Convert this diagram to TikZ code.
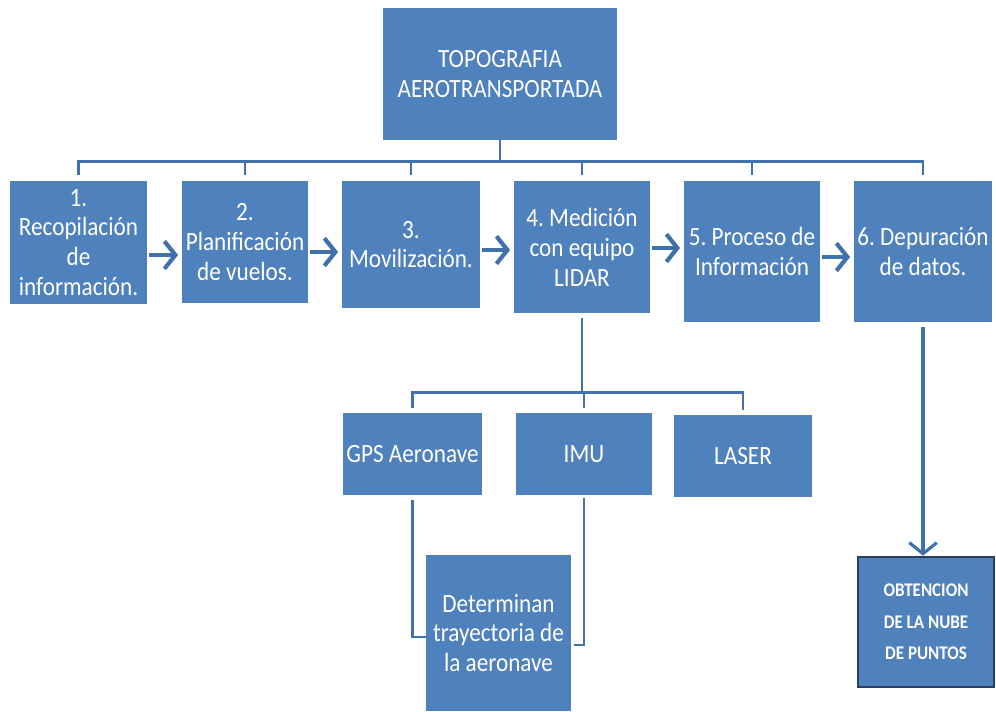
\documentclass[tikz,border=0pt]{standalone}
\usepackage{fontspec}
\setmainfont{Carlito}[FakeStretch=0.88]
\usetikzlibrary{arrows.meta}
\definecolor{boxblue}{RGB}{79,129,189}
\definecolor{lineblue}{RGB}{65,113,170}
\definecolor{rimblue}{RGB}{38,64,100}
\frenchspacing

\begin{document}
\begin{tikzpicture}[x=0.2mm, y=-0.2mm,
        box/.style={fill=boxblue, text=white, align=center, inner sep=1pt,
            font=\fontsize{15}{17}\selectfont},
        link/.style={draw=lineblue, line width=1.6pt},
        arr/.style={draw=lineblue, line width=2.4pt,
            -{Straight Barb[length=2.2mm, width=5.5mm]}}]
    \useasboundingbox (0,0) rectangle (996,711);
    \node[box, minimum width=4.68cm, minimum height=2.64cm] (0) at (500,74) {TOPOGRAFIA\\AEROTRANSPORTADA};
    \node[box, minimum width=2.74cm, minimum height=2.46cm] (1) at (78.5,242.5) {1.\\Recopilación\\de\\información.};
    \node[box, minimum width=2.52cm, minimum height=2.44cm] (2) at (245,242) {2.\\Planificación\\de vuelos.};
    \node[box, minimum width=2.76cm, minimum height=2.54cm] (3) at (411,244.5) {3.\\Movilización.};
    \node[box, minimum width=2.72cm, minimum height=2.64cm] (4) at (582,247) {4. Medición\\con equipo\\LIDAR};
    \node[box, minimum width=2.72cm, minimum height=2.82cm] (5) at (752,251.5) {5. Proceso de\\Información};
    \node[box, minimum width=2.76cm, minimum height=2.82cm] (6) at (923,251.5) {6. Depuración\\de datos.};
    \node[box, minimum width=2.78cm, minimum height=1.64cm] (4a) at (412.5,454) {GPS Aeronave};
    \node[box, minimum width=2.72cm, minimum height=1.64cm] (4b) at (584,454) {IMU};
    \node[box, minimum width=2.76cm, minimum height=1.64cm] (4c) at (743,456) {LASER};
    \node[box, minimum width=2.9cm, minimum height=3.12cm] (4d) at (498.5,633) {Determinan\\trayectoria de\\la aeronave};
    \node[box, draw=rimblue, line width=1.5pt, minimum width=2.72cm, minimum height=2.6cm,
        font=\bfseries\fontsize{11}{18}\selectfont] (6a) at (926,622) {OBTENCION\\DE LA NUBE\\DE PUNTOS};

    % tree from the title
    \draw[link] (0.south) -- ++(0,21) coordinate (h0);
    \foreach \n in {1,...,6}
        \draw[link, shorten >=0.12cm] (h0) -| (\n.north);

    % steps
    \foreach \a/\b/\y in {1/2/255, 2/3/252, 3/4/250, 4/5/248, 5/6/257}
        \draw[arr, shorten <=1pt, shorten >=2pt] (\a.east |- 0,\y) -- (\b.west |- 0,\y);

    % LIDAR equipment
    \draw[link, shorten <=0.1cm] (4.south) -- ++(0,79) coordinate (h4);
    \foreach \n in {4a,4b,4c}
        \draw[link, shorten >=0.1cm] (h4) -| (\n.north);
    \draw[link, shorten <=0.1cm] (4a.south) |- ([yshift=-0.08cm]4d.west);
    \draw[link, shorten <=0.06cm] (4b.south) |- ([xshift=0.06cm, yshift=-0.24cm]4d.east);

    \draw[arr, line width=1.8pt, shorten <=0.1cm] (6.south) -- (6.south |- 6a.north);
\end{tikzpicture}
\end{document}
